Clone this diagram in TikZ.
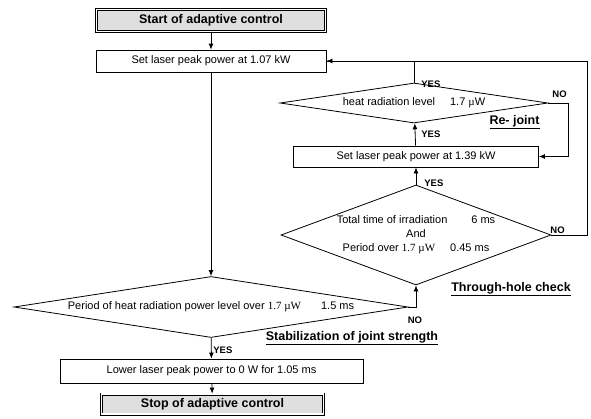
\documentclass[tikz,border=0pt]{standalone}
\usepackage{fontspec}
\setmainfont{Liberation Sans}
\newfontfamily\timesfont{Liberation Serif}
\usetikzlibrary{shapes.geometric,arrows.meta}

\newcommand{\uW}{{\timesfont 1.7 \textmu W}}

\tikzset{
	flow/.style={-{Latex[length=6pt,width=5pt]}},
	procbox/.style={draw, rectangle, inner sep=0pt, font=\fontsize{11}{13}\selectfont},
	termbox/.style={draw, double, double distance=1.4pt, fill=gray!25, inner sep=0pt, font=\bfseries\fontsize{12.5}{14}\selectfont},
	decision/.style={draw, diamond, inner sep=0pt, align=center, font=\fontsize{11}{14}\selectfont},
	answer/.style={inner sep=0pt, font=\bfseries\fontsize{9.5}{11}\selectfont},
	heading/.style={inner sep=0pt, font=\bfseries\fontsize{12.5}{14}\selectfont}
}

\begin{document}
\begin{tikzpicture}[x=1pt, y=-1pt, line width=0.8pt]
	\useasboundingbox (0,0) rectangle (591,418);

	% main column
	\node[termbox, minimum width=229, minimum height=22] (start) at (211,20.5) {Start of adaptive control};
	\node[procbox, minimum width=230, minimum height=22] (set1) at (211,61) {Set laser peak power at 1.07 kW};
	\node[decision, aspect=6.4, minimum width=394, minimum height=61] (d3) at (211,307)
		{Period of heat radiation power level over \uW\hspace{20pt}1.5 ms};
	\node[procbox, minimum width=303, minimum height=24] (lower) at (211.5,371) {Lower laser peak power to 0 W for 1.05 ms};
	\node[termbox, minimum width=222, minimum height=20] (stop) at (212.5,404) {Stop of adaptive control};

	% right column
	\node[decision, aspect=2.7, minimum width=270, minimum height=100] (d2) at (416,235)
		{Total time of irradiation\hspace{24pt}6 ms\\And\\Period over \uW\hspace{15pt}0.45 ms};
	\node[procbox, minimum width=245, minimum height=21] (set2) at (416,156.5) {Set laser peak power at 1.39 kW};
	\node[decision, aspect=6.7, minimum width=268, minimum height=40] (d1) at (414,103)
		{heat radiation level\hspace{15pt}1.7 {\timesfont\textmu}W};

	\coordinate (outer) at (587,61);
	\coordinate (rejoin) at (568,103);

	% connectors
	\draw[flow] (start) -- (set1);
	\draw[flow] (set1) -- (d3);
	\draw[flow] (d3) -- (lower);
	\draw[flow] (lower) -- (stop);
	\draw[flow] (d3.east) -| (d2.south);
	\draw[flow] (d2) -- (set2);
	\draw[flow] (set2) -- (d1);
	\draw (d1.north) |- (set1.east);
	\draw[flow] (d2.east) -| (outer) -- (set1.east);
	\draw[flow] (d1.east) -- (rejoin) |- (set2.east);

	% answers
	\node[answer, anchor=west] (yes1) at (421,84) {YES};
	\node[answer, anchor=west] (no1) at (552,94) {NO};
	\node[answer, anchor=west] (yes2) at (421,134) {YES};
	\node[answer, anchor=west] (yes3) at (424,183) {YES};
	\node[answer, anchor=west] (no2) at (550,230) {NO};
	\node[answer] (no3) at (415,320) {NO};
	\node[answer, anchor=west] (yes4) at (213,350) {YES};

	% headings
	\node[heading] (rejoint) at (514.5,122) {\underline{Re- joint}};
	\node[heading] (through) at (511,289) {\underline{Through-hole check}};
	\node[heading] (stabil) at (352,338) {\underline{Stabilization of joint strength}};
\end{tikzpicture}
\end{document}
